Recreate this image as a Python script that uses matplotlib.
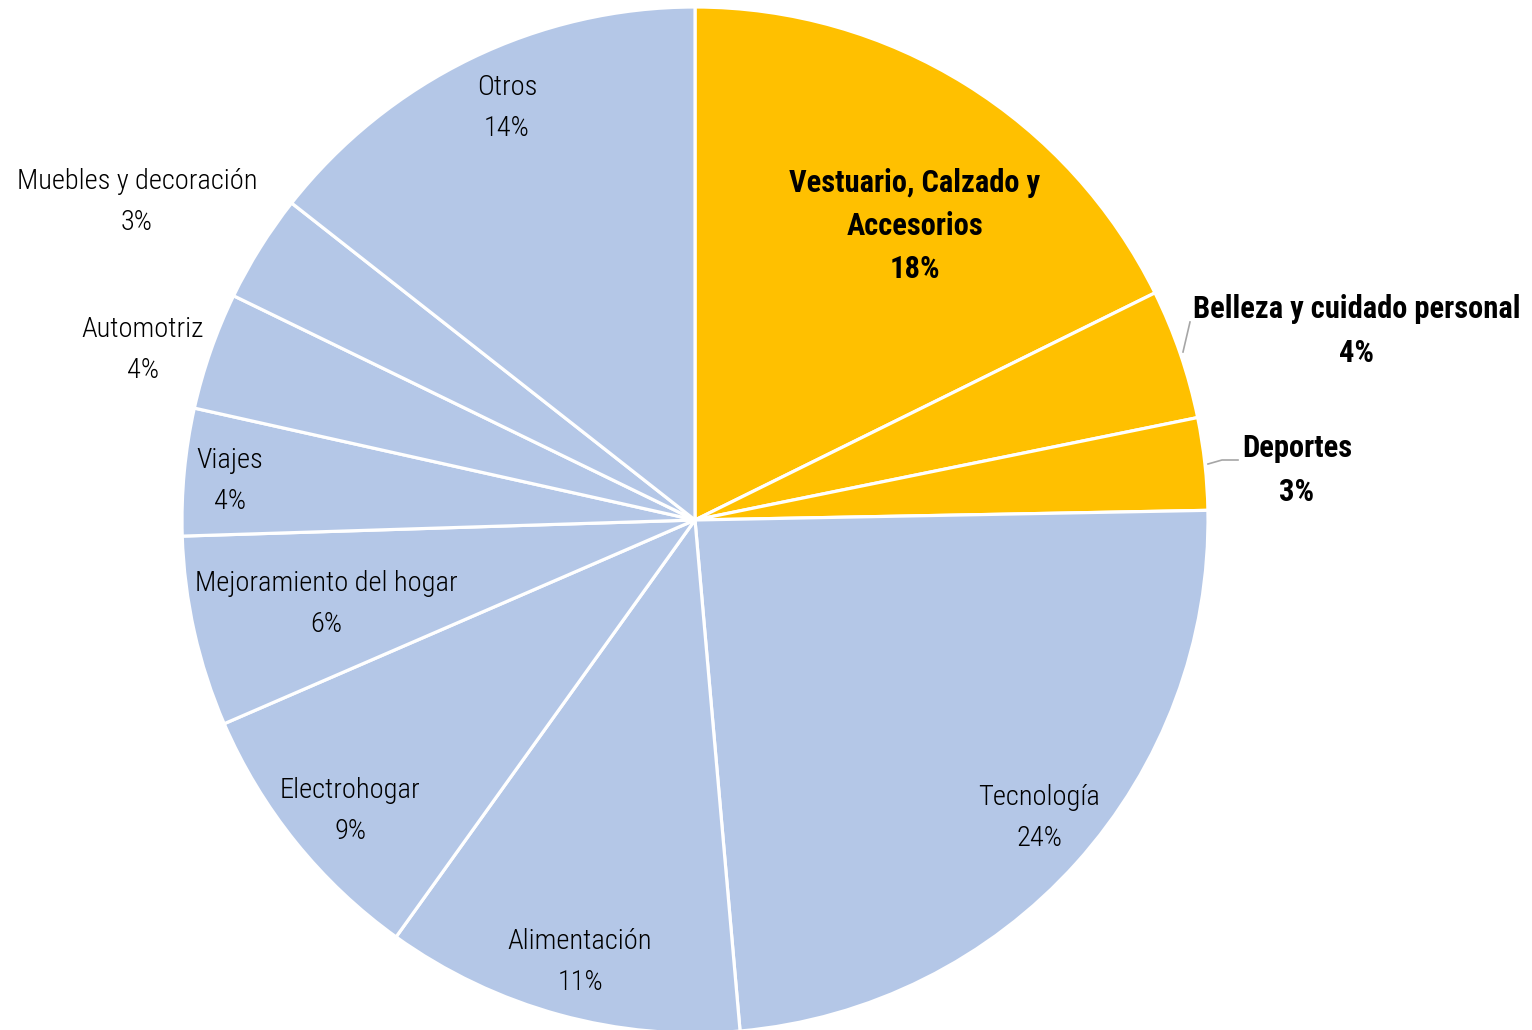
import numpy as np
import matplotlib.pyplot as plt

# Share of sales by category (percent), clockwise from 12 o'clock
categories = ["Vestuario, Calzado y\nAccesorios", "Belleza y cuidado personal", "Deportes",
              "Tecnología", "Alimentación", "Electrohogar", "Mejoramiento del hogar",
              "Viajes", "Automotriz", "Muebles y decoración", "Otros"]
shares = [17.7, 4.1, 2.9, 23.9, 11.3, 8.6, 6.0, 4.0, 3.7, 3.4, 14.4]
highlighted = [True, True, True, False, False, False, False, False, False, False, False]

BLUE = "#B4C7E7"
GOLD = "#FFC000"

plt.rcParams['font.family'] = ['Roboto Condensed', 'DejaVu Sans']
plt.rcParams['font.stretch'] = 'condensed'

fig = plt.figure(figsize=(15.32, 10.30), dpi=100)
W, H = 1532, 1030
cx, cy, R = 695, 520, 513
ax = fig.add_axes([(cx - R) / W, (H - cy - R) / H, 2 * R / W, 2 * R / H])

colors = [GOLD if h else BLUE for h in highlighted]
wedges, _ = ax.pie(shares, colors=colors, startangle=90, counterclock=False,
                   wedgeprops=dict(edgecolor="white", linewidth=2.3))
ax.set_xlim(-1, 1)
ax.set_ylim(-1, 1)
ax.set_aspect("equal")
ax.axis("off")

# label anchors in pixel space (text block centres)
label_px = [(915, 226), (1357, 331), (1297, 470), (1039, 818), (580, 962),
            (350, 811), (326, 604), (230, 481), (143, 350), (137, 202), (507, 108)]

def to_data(px, py):
    return (px - cx) / R, (cy - py) / R

for name, val, hl, (px, py) in zip(categories, shares, highlighted, label_px):
    x, y = to_data(px, py)
    if hl:
        style = dict(fontsize=22, fontweight="bold", linespacing=1.55)
    else:
        style = dict(fontsize=20.5, fontweight="light", linespacing=1.68)
    ax.text(x, y, f"{name}\n{val:.0f}%", ha="center", va="center",
            fontstretch="condensed", color="black", **style)

# leader lines for the two small outside labels
for pts in ([(1183, 352), (1190, 322)], [(1208, 464), (1222, 460), (1238, 460)]):
    xs, ys = zip(*[to_data(*p) for p in pts])
    ax.plot(xs, ys, color="#A6A6A6", linewidth=1.2, clip_on=False)

fig.savefig("out.png", dpi=100, facecolor="white")
